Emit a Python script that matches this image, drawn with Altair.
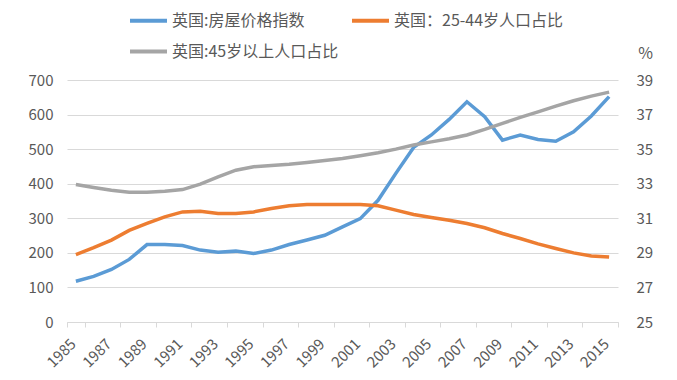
import altair as alt
import pandas as pd

years = list(range(1985, 2016))
house_price_index = [118, 132, 152, 181, 224, 224, 221, 208, 202, 205,
                     198, 208, 224, 237, 251, 275, 299, 352, 430, 505,
                     541, 586, 637, 594, 526, 541, 528, 523, 550, 596, 652]
share_25_44 = [28.9, 29.3, 29.74, 30.3, 30.7, 31.08, 31.37, 31.41, 31.28, 31.28,
               31.37, 31.57, 31.72, 31.8, 31.8, 31.8, 31.8, 31.72, 31.47, 31.22,
               31.05, 30.89, 30.7, 30.45, 30.12, 29.83, 29.52, 29.25, 29.0, 28.82, 28.76]
share_45_plus = [32.96, 32.78, 32.62, 32.51, 32.51, 32.57, 32.66, 32.98, 33.4, 33.78,
                 33.98, 34.06, 34.12, 34.23, 34.34, 34.46, 34.62, 34.79, 35.0, 35.24,
                 35.42, 35.6, 35.82, 36.14, 36.49, 36.84, 37.16, 37.49, 37.8, 38.07, 38.3]

series_names = ["英国:房屋价格指数", "英国：25-44岁人口占比", "英国:45岁以上人口占比"]
series_colors = ["#5B9BD5", "#ED7D31", "#A5A5A5"]
label_years = [y for y in years if (y - 1985) % 2 == 0]
left_ticks = [0, 100, 200, 300, 400, 500, 600, 700]
right_ticks = [25, 27, 29, 31, 33, 35, 37, 39]

FONT = "Noto Sans CJK SC"
GREY_TXT = "#595959"

df_left = pd.DataFrame({"year": years, "value": house_price_index, "series": series_names[0]})
df_right = pd.concat([
    pd.DataFrame({"year": years, "value": share_25_44, "series": series_names[1]}),
    pd.DataFrame({"year": years, "value": share_45_plus, "series": series_names[2]}),
])

xenc = alt.X(
    "year:O",
    scale=alt.Scale(type="band", paddingInner=0, paddingOuter=0),
    bandPosition=0.5,
    axis=alt.Axis(values=label_years, tickBand="extent", labelAngle=-45, title=None,
                  labelAlign="right", labelBaseline="middle", labelOffset=-3,
                  domainColor="#d9d9d9", tickColor="#d9d9d9", tickSize=5, labelPadding=14,
                  labelFontSize=15, labelColor=GREY_TXT, labelFont=FONT, grid=False),
)

color = alt.Color(
    "series:N",
    scale=alt.Scale(domain=series_names, range=series_colors),
    sort=series_names,
    legend=alt.Legend(title=None, orient="none", legendX=61, legendY=-80, columns=2,
                      direction="horizontal",
                      symbolType="stroke", symbolSize=1369, symbolStrokeWidth=4,
                      labelFontSize=16, labelFont=FONT, labelColor=GREY_TXT,
                      columnPadding=5, rowPadding=2, labelOffset=3, labelLimit=300),
)

left = alt.Chart(df_left).mark_line(strokeWidth=3.5).encode(
    x=xenc,
    y=alt.Y("value:Q", scale=alt.Scale(domain=[0, 700]),
            axis=alt.Axis(values=left_ticks, title=None, grid=True, gridColor="#d9d9d9",
                          domain=False, ticks=False, labelPadding=14, labelFontSize=15,
                          labelColor=GREY_TXT, labelFont=FONT)),
    color=color,
)

right = alt.Chart(df_right).mark_line(strokeWidth=3.5).encode(
    x=xenc,
    y=alt.Y("value:Q", scale=alt.Scale(domain=[25, 39]),
            axis=alt.Axis(orient="right", values=right_ticks, title="%", titleAngle=0,
                          titleX=27, titleY=-27, titleAlign="center", titleBaseline="middle",
                          titleFontSize=16, titleFontWeight="normal", titleColor=GREY_TXT,
                          titleFont=FONT, grid=False, domain=False, ticks=False,
                          labelPadding=18, labelFontSize=15, labelColor=GREY_TXT, labelFont=FONT)),
    color=color,
)

chart = alt.layer(left, right).resolve_scale(y="independent").properties(
    width=551, height=242,
    autosize=alt.AutoSizeParams(type="none"),
    padding={"left": 59, "top": 72, "right": 51, "bottom": 50},
).configure_view(stroke=None)

chart.save("out.html", embed_options={"renderer": "svg", "actions": False})
